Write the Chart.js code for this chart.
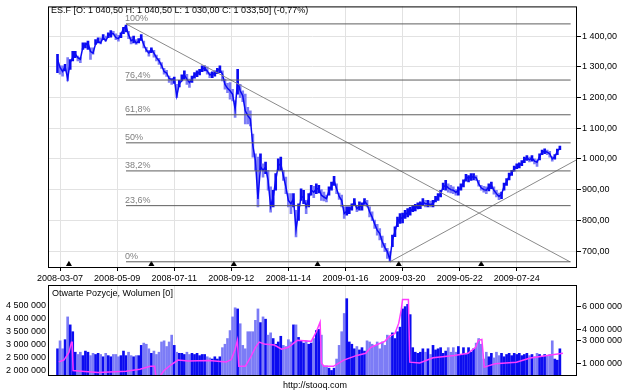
<!DOCTYPE html>
<html>
<head>
<meta charset="utf-8">
<script src="https://cdn.jsdelivr.net/npm/chart.js@4.4.1/dist/chart.umd.min.js"></script>
<style>
  body { margin: 0; background: #fff; }
  #wrap { position: relative; width: 625px; height: 391px; font-family: 'Liberation Sans', Arial, sans-serif; font-size: 9px; color: #000; }
  canvas { position: absolute; left: 0; top: 0; }
  .txt { position: absolute; white-space: nowrap; line-height: 10px; }
</style>
</head>
<body>
<div id="wrap">
  <canvas id="price" width="625" height="391"></canvas>
  <canvas id="volume" width="625" height="391"></canvas>
  <div class="txt" style="left:51px;top:5px">ES.F [O: 1 040,50 H: 1 040,50 L: 1 030,00 C: 1 033,50] (-0,77%)</div>
  <div class="txt" style="left:52px;top:288px">Otwarte Pozycje, Wolumen [0]</div>
  <div class="txt" style="left:283px;top:380px">http://stooq.com</div>
</div>
<script>
// x = trading-day index (Mon-Fri), 2008-03-07 is day 10
const dateLabels = ['2008-03-07', '2008-05-09', '2008-07-11', '2008-09-12', '2008-11-14',
                    '2009-01-16', '2009-03-20', '2009-05-22', '2009-07-24'];
const labelDays = [10, 55, 100, 145, 190, 235, 280, 325, 370];

// sampled every 2nd trading day, from day 8 to day 404
const days = Array.from({ length: 199 }, (_, i) => 8 + 2 * i);

const closes = [
  1325, 1298, 1285, 1300, 1262, 1315, 1330, 1342, 1330, 1325,
  1365, 1372, 1378, 1350, 1345, 1375, 1383, 1378, 1395, 1385,
  1400, 1410, 1408, 1395, 1392, 1405, 1425, 1432, 1405, 1385,
  1390, 1378, 1383, 1395, 1372, 1355, 1345, 1358, 1345, 1330,
  1320, 1305, 1285, 1280, 1262, 1258, 1262, 1205, 1245, 1255,
  1274, 1260, 1249, 1260, 1273, 1278, 1283, 1295, 1295, 1287,
  1274, 1276, 1278, 1289, 1292, 1276, 1243, 1230, 1222, 1211,
  1162, 1254, 1222, 1206, 1157, 1141, 1130, 1043, 995, 870,
  975, 963, 973, 930, 845, 876, 930, 979, 984, 946,
  909, 865, 854, 871, 770, 827, 876, 876, 844, 871,
  898, 892,
  903, 903, 882, 876, 871, 896, 911, 930, 903, 878,
  865, 822, 830, 833, 844, 860, 838, 846, 846, 862,
  852, 828, 811, 788, 768, 757, 730, 712, 698, 672,
  736, 763, 795, 806, 809, 820, 824, 828, 838, 842,
  846, 849, 860, 854, 854, 852, 854, 868, 876, 887,
  909,
  914, 906, 900, 898, 891, 898, 906, 921, 939, 939,
  941, 941, 939, 919, 906, 900, 898, 909, 914, 898,
  887, 878, 885, 911, 925, 943, 954, 968, 975, 979,
  986, 997, 1004, 997, 1004, 993, 989, 1008, 1022, 1025,
  1022, 1017, 1000, 1006, 1025, 1034
];

const highs = [
  1341, 1303, 1303, 1308, 1330, 1324, 1351, 1351, 1335, 1330,
  1378, 1378, 1384, 1362, 1362, 1389, 1395, 1395, 1405, 1400,
  1411, 1418, 1416, 1408, 1403, 1411, 1429, 1436, 1416, 1397,
  1400, 1389, 1392, 1405, 1384, 1364, 1354, 1362, 1354, 1338,
  1328, 1314, 1295, 1289, 1270, 1263, 1267, 1243, 1256, 1274,
  1287, 1276, 1260, 1270, 1281, 1287, 1292, 1303, 1303, 1300,
  1281, 1284, 1287, 1295, 1303, 1287, 1260, 1246, 1249, 1227,
  1189, 1292, 1243, 1222, 1211, 1168, 1157, 1081, 1017, 1006,
  1017, 984, 990, 963, 909, 898, 952, 1000, 1006, 963,
  941, 887, 887, 887, 833, 854, 903, 898, 865, 887,
  914, 911,
  919, 914, 900, 892, 882, 909, 925, 943, 919, 889,
  882, 844, 844, 844, 854, 871, 849, 860, 857, 871,
  865, 844, 828, 801, 787, 773, 749, 725, 709, 698,
  752, 779, 811, 822, 824, 833, 838, 842, 849, 852,
  857, 860, 871, 865, 865, 863, 865, 878, 887, 898,
  921,
  930, 919, 914, 909, 900, 909, 919, 932, 950, 946,
  952, 952, 946, 930, 914, 911, 909, 919, 925, 909,
  898, 889, 892, 921, 936, 954, 963, 977, 984, 987,
  995, 1006, 1011, 1006, 1011, 1000, 997, 1017, 1029, 1033,
  1029, 1025, 1008, 1014, 1032, 1042
];

const lows = [
  1281, 1276, 1270, 1287, 1254, 1292, 1319, 1330, 1319, 1314,
  1357, 1362, 1357, 1324, 1341, 1373, 1378, 1375, 1389, 1384,
  1395, 1397, 1403, 1389, 1384, 1395, 1408, 1414, 1392, 1375,
  1378, 1373, 1378, 1386, 1362, 1349, 1335, 1346, 1332, 1319,
  1308, 1295, 1276, 1269, 1249, 1243, 1246, 1200, 1235, 1254,
  1260, 1243, 1233, 1249, 1263, 1268, 1274, 1284, 1287, 1276,
  1265, 1265, 1270, 1278, 1281, 1254, 1227, 1216, 1195, 1189,
  1135, 1211, 1200, 1187, 1114, 1114, 1108, 1006, 963, 844,
  963, 941, 952, 898, 827, 844, 898, 963, 963, 930,
  887, 844, 822, 844, 746, 800, 865, 854, 822, 844,
  882, 874,
  887, 889, 865, 863, 860, 882, 898, 914, 887, 868,
  844, 806, 817, 822, 833, 849, 828, 833, 833, 852,
  844, 811, 799, 774, 752, 736, 712, 698, 676, 666,
  714, 747, 779, 790, 792, 806, 811, 817, 828, 831,
  837, 838, 849, 844, 844, 844, 844, 860, 865, 876,
  900,
  898, 892, 889, 887, 882, 882, 898, 909, 928, 925,
  930, 932, 930, 911, 898, 892, 887, 896, 903, 885,
  876, 867, 871, 898, 914, 932, 946, 960, 968, 971,
  978, 988, 995, 990, 993, 984, 976, 997, 1014, 1017,
  1014, 1006, 993, 999, 1014, 1030
];

// volume in millions of contracts, same days
const volumeM = [
  2.3, 3.0, 2.3, 3.1, 5.1, 4.4, 3.8, 2.0, 1.8, 2.0,
  1.7, 2.1, 2.0, 1.7, 1.9, 1.8, 1.9, 1.8, 1.6, 1.9,
  1.7, 1.6, 1.8, 1.8, 1.6, 1.7, 2.1, 1.7, 2.0, 1.7,
  1.6, 1.7, 1.7, 2.6, 2.8, 2.7, 2.3, 1.9, 2.1, 1.8,
  2.0, 2.9, 3.0, 2.5, 2.9, 3.5, 2.6, 2.0, 1.9, 1.9,
  1.8, 2.0, 1.8, 1.9, 1.8, 1.9, 1.7, 1.8, 1.8, 1.6,
  1.5, 1.4, 1.6, 1.4, 1.6, 2.4, 2.7, 3.2, 3.9, 5.1,
  5.9, 5.8, 4.5, 2.6, 2.3, 3.8, 3.8, 3.8, 4.8, 5.8,
  4.6, 5.1, 4.9, 3.5, 3.7, 3.2, 2.7, 2.9, 3.4, 2.6,
  2.5, 3.1, 2.9, 4.4, 4.4, 3.3, 3.0, 2.8, 3.0, 2.7,
  2.8, 3.2,
  3.9, 4.0, 3.5, 0.8, 0.8, 0.6, 0.4, 0.6, 1.4, 2.6,
  3.8, 5.4, 6.7, 2.9, 2.7, 2.3, 2.5, 2.2, 2.4, 2.1,
  3.0, 2.9, 2.7, 2.6, 2.9, 2.3, 2.9, 2.6, 3.5, 3.3,
  3.7, 3.2, 3.8, 4.2, 5.8, 6.0, 6.2, 5.3, 2.4, 2.0,
  1.9, 2.0, 2.3, 2.0, 2.3, 1.8, 2.6, 2.2, 2.3, 2.4,
  1.9,
  2.1, 2.4, 2.0, 2.4, 2.0, 2.5, 1.8, 2.4, 1.8, 2.4,
  2.0, 2.3, 2.8, 3.2, 2.7, 1.4, 2.0, 1.6, 1.9, 1.5,
  2.0, 1.7, 1.9, 1.6, 1.8, 1.9, 1.7, 1.9, 1.8, 1.9,
  1.7, 1.8, 1.9, 1.7, 1.8, 1.6, 1.9, 1.8, 1.6, 1.8,
  1.7, 1.8, 3.0, 1.4, 1.3, 2.3
];

// open interest (millions), read at the turning points of the line
const oiDays = [9, 13, 17, 19, 19.6, 20.3, 29.5, 40, 62, 73, 81, 84.5, 86, 88, 92, 97.5,
  103, 111, 127.5, 141, 145, 148, 149.8, 150.9, 156, 160, 164, 167, 171, 179, 184.6, 190,
  197, 208, 212, 215, 216, 218, 225.5, 233.6, 244, 251, 255, 261, 266, 270, 274, 277, 279,
  280, 284.6, 285.7, 293.5, 304, 320.7, 331.6, 337.6, 339.8, 342.5, 344.4, 353, 369.7,
  380.6, 394, 406.4];
const oiM = [2.35, 2.42, 2.71, 3.11, 3.11, 2.02, 1.98, 1.94, 1.99, 2.07, 2.18, 2.18, 1.65, 1.75, 2.02, 2.24,
  2.42, 2.38, 2.40, 2.35, 2.44, 2.84, 3.18, 2.18, 2.18, 2.51, 2.91, 3.11, 3.04, 3.0, 2.84, 2.91,
  3.18, 3.14, 3.51, 3.88, 2.31, 2.18, 2.18, 2.42, 2.6, 2.68, 2.91, 3.04, 3.14, 3.35, 3.44, 3.84, 4.37,
  4.75, 4.75, 2.34, 2.31, 2.51, 2.6, 2.68, 2.91, 3.18, 3.21, 2.15, 2.28, 2.34,
  2.5, 2.6, 2.68];

// Fibonacci retracement between the May 2008 high and the March 2009 low
const fibHigh = 1440;
const fibLow = 665;
const fibRatios = [1, 0.764, 0.618, 0.5, 0.382, 0.236, 0];
const fibNames = ['100%', '76,4%', '61,8%', '50%', '38,2%', '23,6%', '0%'];
const fibFrom = 62, fibTo = 412.5;

// trend lines [day, price]
const trendDown = [[62, 1440], [412, 665]];
const trendUp = [[270, 665], [417.5, 998]];

// rollover markers
const rollDays = [17, 82, 147, 213, 277, 342];

const priceTicks = [700, 800, 900, 1000, 1100, 1200, 1300, 1400];
const oiTicks = [2000000, 2500000, 3000000, 3500000, 4000000, 4500000];
const volTicks = [1000000, 3000000, 4000000, 6000000];

Chart.defaults.font.family = "'Liberation Sans', Arial, sans-serif";
Chart.defaults.font.size = 9;
Chart.defaults.color = '#000';

const spaced = n => String(n).replace(/\B(?=(\d{3})+(?!\d))/g, ' ');
const fmtPrice = v => {
  const [a, b] = Number(v).toFixed(2).split('.');
  return spaced(a) + ',' + b;
};

const gridColor = '#e2e2e2';
const darkBlue = '#0c0cf0';
const lightBlue = '#7c7cf6';
const upDay = closes.map((c, i) => i === 0 || c >= closes[i - 1]);

const frame = {
  id: 'frame',
  afterDraw(chart) {
    const { ctx, chartArea: a } = chart;
    ctx.save();
    ctx.strokeStyle = '#000';
    ctx.lineWidth = 1;
    ctx.strokeRect(a.left + 0.5, a.top + 0.5, a.right - a.left - 1, a.bottom - a.top);
    ctx.restore();
  }
};

const fibText = {
  id: 'fibText',
  afterDatasetsDraw(chart) {
    const { ctx, scales } = chart;
    ctx.save();
    ctx.font = "9px 'Liberation Sans', Arial, sans-serif";
    ctx.fillStyle = '#808080';
    ctx.textBaseline = 'bottom';
    fibRatios.forEach((r, i) => {
      const lvl = fibLow + r * (fibHigh - fibLow);
      ctx.fillText(fibNames[i], scales.x.getPixelForValue(fibFrom) - 1, scales.y.getPixelForValue(lvl) - 0.5);
    });
    ctx.restore();
  }
};

const segment = (pts, color) => ({
  data: pts.map(p => ({ x: p[0], y: p[1] })),
  borderColor: color, borderWidth: 1, pointRadius: 0, tension: 0
});

const priceSets = [];
fibRatios.forEach(r => {
  const lvl = fibLow + r * (fibHigh - fibLow);
  priceSets.push(segment([[fibFrom, lvl], [fibTo, lvl]], '#5e5e5e'));
});
priceSets.push(segment(trendDown, '#8a8a8a'));
priceSets.push(segment(trendUp, '#8a8a8a'));
priceSets.push({
  type: 'scatter',
  data: rollDays.map(d => ({ x: d, y: 657 })),
  pointStyle: 'triangle', pointRadius: 3.5, backgroundColor: '#000', borderColor: '#000', borderWidth: 0,
  clip: false
});
priceSets.push({
  data: days.map((d, i) => ({ x: d, y: closes[i] })),
  borderColor: '#0a0af5', borderWidth: 1.5, pointRadius: 0, tension: 0
});
priceSets.push({
  type: 'bar',
  data: days.map((d, i) => ({ x: d, y: [lows[i], highs[i]] })),
  backgroundColor: upDay.map(u => u ? darkBlue : lightBlue),
  barThickness: 2
});

new Chart(document.getElementById('price'), {
  type: 'line',
  data: { datasets: priceSets },
  options: {
    responsive: false,
    animation: false,
    layout: { padding: { left: 48, top: 5, right: 0, bottom: 100 }, autoPadding: false },
    scales: {
      x: {
        type: 'linear', min: 0.5, max: 417.5, offset: false,
        afterBuildTicks: s => { s.ticks = labelDays.map(v => ({ value: v })); },
        afterFit: s => { s.height = 24; },
        ticks: {
          autoSkip: false, maxRotation: 0, padding: 2,
          callback: v => dateLabels[labelDays.indexOf(v)]
        },
        grid: { color: gridColor, tickLength: 4, tickColor: '#000', offset: false },
        border: { display: false }
      },
      y: {
        position: 'right', min: 648, max: 1497,
        afterBuildTicks: s => { s.ticks = priceTicks.map(v => ({ value: v })); },
        afterFit: s => { s.width = 48; },
        ticks: { padding: 1, callback: v => fmtPrice(v) },
        grid: { color: gridColor, tickLength: 4, tickColor: '#000' },
        border: { display: false }
      }
    },
    plugins: { legend: { display: false }, tooltip: { enabled: false } }
  },
  plugins: [frame, fibText]
});

new Chart(document.getElementById('volume'), {
  type: 'bar',
  data: {
    datasets: [
      {
        type: 'line',
        yAxisID: 'yO',
        data: oiDays.map((d, i) => ({ x: d, y: oiM[i] * 1e6 })),
        borderColor: '#ff3cff', borderWidth: 1.5, pointRadius: 0, tension: 0
      },
      {
        yAxisID: 'yV',
        data: days.map((d, i) => ({ x: d, y: volumeM[i] * 1e6 })),
        backgroundColor: upDay.map(u => u ? darkBlue : lightBlue),
        barThickness: 2
      }
    ]
  },
  options: {
    responsive: false,
    animation: false,
    layout: { padding: { left: 0, top: 285, right: 0, bottom: 16 }, autoPadding: false },
    scales: {
      x: {
        type: 'linear', min: 0.5, max: 417.5, offset: false,
        afterBuildTicks: s => { s.ticks = labelDays.map(v => ({ value: v })); },
        afterFit: s => { s.height = 0; },
        ticks: { display: false },
        grid: { color: gridColor, drawTicks: false, offset: false },
        border: { display: false }
      },
      yO: {
        position: 'left', min: 1846000, max: 5308000,
        afterBuildTicks: s => { s.ticks = oiTicks.map(v => ({ value: v })); },
        afterFit: s => { s.width = 48; },
        ticks: { padding: 2, callback: v => spaced(v) },
        grid: { drawOnChartArea: false, drawTicks: false },
        border: { display: false }
      },
      yV: {
        position: 'right', min: 0, max: 7900000,
        afterBuildTicks: s => { s.ticks = volTicks.map(v => ({ value: v })); },
        afterFit: s => { s.width = 48; },
        ticks: { padding: 1, callback: v => spaced(v) },
        grid: { drawOnChartArea: false, tickLength: 4, tickColor: '#000' },
        border: { display: false }
      }
    },
    plugins: { legend: { display: false }, tooltip: { enabled: false } }
  },
  plugins: [frame]
});
</script>
</body>
</html>
